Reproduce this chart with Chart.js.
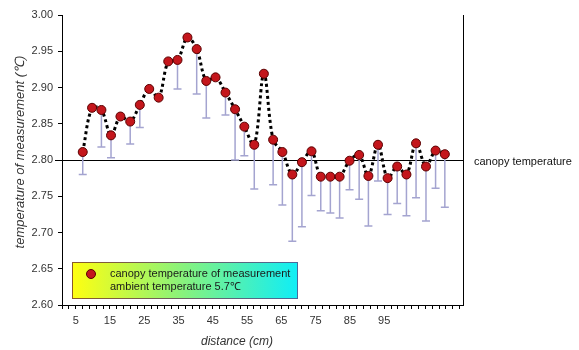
<!DOCTYPE html>
<html>
<head>
<meta charset="utf-8">
<script src="https://cdn.jsdelivr.net/npm/chart.js@4"></script>
<style>
  html, body { margin: 0; padding: 0; background: #fff; }
  #wrap { width: 579px; height: 350px; }
</style>
</head>
<body>
<div id="wrap"><canvas id="chart"></canvas></div>
<script>
// distance of each measurement point (cm)
const distance = [7.05, 9.77, 12.5, 15.3, 18.05, 20.9, 23.7, 26.45, 29.2, 32.0,
    34.7, 37.6, 40.3, 43.1, 45.8, 48.7, 51.5, 54.2, 57.1, 59.9,
    62.6, 65.3, 68.2, 71.0, 73.8, 76.5, 79.3, 82.0, 84.9, 87.7,
    90.4, 93.2, 96.0, 98.8, 101.5, 104.3, 107.2, 110.0, 112.7];

// canopy temperature of measurement
const canopyTemp = [2.811, 2.872, 2.869, 2.834, 2.860, 2.853, 2.876, 2.898, 2.886, 2.936,
    2.938, 2.969, 2.953, 2.909, 2.914, 2.893, 2.870, 2.846, 2.821, 2.919,
    2.828, 2.811, 2.780, 2.797, 2.812, 2.777, 2.777, 2.777, 2.799, 2.807,
    2.778, 2.821, 2.775, 2.791, 2.780, 2.823, 2.791, 2.813, 2.808];

// lower end of the error bar (null = no bar shown)
const lowerEnd = [2.780, null, 2.818, 2.803, null, 2.822, 2.845, null, null, null,
    2.898, null, 2.891, 2.858, null, 2.862, 2.800, 2.806, 2.760, null,
    2.766, 2.738, 2.688, 2.708, 2.751, 2.730, 2.727, 2.720, 2.759, 2.746,
    2.709, 2.771, 2.725, 2.740, 2.723, 2.748, 2.716, 2.761, 2.735];

const xLabels = [5, 15, 25, 35, 45, 55, 65, 75, 85, 95];
const canopyRef = 2.80;

const FONT = 'Arial, "Liberation Sans", sans-serif';

const extras = {
    id: 'extras',
    beforeDatasetsDraw(chart) {
        const {ctx, chartArea, scales: {x, y}} = chart;
        ctx.save();
        // reference line + label
        const ry = Math.round(y.getPixelForValue(canopyRef)) + 0.5;
        ctx.strokeStyle = '#000';
        ctx.lineWidth = 1;
        ctx.beginPath();
        ctx.moveTo(chartArea.left - 7, ry);
        ctx.lineTo(chartArea.right, ry);
        ctx.stroke();
        ctx.fillStyle = '#111';
        ctx.font = '11px ' + FONT;
        ctx.textBaseline = 'middle';
        ctx.fillText('canopy temperature', chartArea.right + 11, ry + 1);

        // error bars (lower only)
        ctx.strokeStyle = '#a4a4d0';
        ctx.lineWidth = 1.5;
        distance.forEach((d, i) => {
            if (lowerEnd[i] == null) return;
            const px = x.getPixelForValue(d);
            const top = y.getPixelForValue(canopyTemp[i]);
            const bot = y.getPixelForValue(lowerEnd[i]);
            ctx.beginPath();
            ctx.moveTo(px, top);
            ctx.lineTo(px, bot);
            ctx.moveTo(px - 4, bot);
            ctx.lineTo(px + 4, bot);
            ctx.stroke();
        });
        ctx.restore();
    },
    afterDraw(chart) {
        const {ctx, chartArea} = chart;
        ctx.save();
        // right frame line
        ctx.strokeStyle = '#000';
        ctx.lineWidth = 1;
        ctx.beginPath();
        ctx.moveTo(chartArea.right + 0.5, chartArea.top);
        ctx.lineTo(chartArea.right + 0.5, chartArea.bottom);
        ctx.stroke();

        // axis titles
        ctx.fillStyle = '#333';
        ctx.textAlign = 'center';
        ctx.textBaseline = 'middle';
        ctx.font = 'italic 12px ' + FONT;
        ctx.fillText('distance (cm)', 237, 342);
        ctx.save();
        ctx.translate(20, 152);
        ctx.rotate(-Math.PI / 2);
        ctx.font = 'italic 13px ' + FONT;
        ctx.fillText('temperature of measurement (\u2103)', 0, 0);
        ctx.restore();

        // legend box
        const bx = 72, by = 262, bw = 225, bh = 36;
        const g = ctx.createLinearGradient(bx, 0, bx + bw, 0);
        g.addColorStop(0, '#ffff10');
        g.addColorStop(0.5, '#86f27e');
        g.addColorStop(1, '#10eef6');
        ctx.fillStyle = g;
        ctx.fillRect(bx, by, bw, bh);
        const sg = ctx.createLinearGradient(bx, 0, bx + bw, 0);
        sg.addColorStop(0, '#8a5a2a');
        sg.addColorStop(1, '#4a6a9a');
        ctx.strokeStyle = sg;
        ctx.strokeRect(bx + 0.5, by + 0.5, bw, bh);

        ctx.beginPath();
        ctx.arc(91, 274, 4.5, 0, Math.PI * 2);
        ctx.fillStyle = '#c4161c';
        ctx.fill();
        ctx.strokeStyle = '#5a0000';
        ctx.stroke();

        ctx.fillStyle = '#1a1a1a';
        ctx.textAlign = 'left';
        ctx.font = '11px ' + FONT;
        ctx.fillText('canopy temperature of measurement', 110, 274);
        ctx.fillText('ambient temperature 5.7\u2103', 110, 287);
        ctx.restore();
    }
};

new Chart(document.getElementById('chart'), {
    type: 'line',
    data: {
        datasets: [{
            label: 'canopy temperature of measurement',
            data: distance.map((d, i) => ({x: d, y: canopyTemp[i]})),
            borderColor: '#000',
            borderWidth: 3,
            borderDash: [3, 3],
            tension: 0.35,
            pointRadius: 4.5,
            pointBackgroundColor: '#c4161c',
            pointBorderColor: '#5a0000',
            pointBorderWidth: 1,
            fill: false
        }]
    },
    options: {
        responsive: true,
        maintainAspectRatio: false,
        animation: false,
        layout: {padding: {top: 15, right: 116, left: 0, bottom: 0}},
        plugins: {
            legend: {display: false},
            tooltip: {enabled: false}
        },
        scales: {
            x: {
                type: 'linear',
                min: 1,
                max: 118,
                afterBuildTicks: s => {
                    const t = [];
                    for (let v = 1; v <= 117; v += 2) t.push({value: v});
                    s.ticks = t;
                },
                afterFit: s => { s.height = 45; },
                grid: {drawOnChartArea: false, tickLength: 4, color: '#000'},
                border: {color: '#000', width: 1},
                ticks: {
                    autoSkip: false,
                    maxRotation: 0,
                    padding: 5,
                    color: '#333',
                    font: {family: FONT, size: 11},
                    callback: v => xLabels.includes(v) ? String(v) : ''
                }
            },
            y: {
                min: 2.6,
                max: 3.0,
                afterFit: s => { s.width = 62; },
                grid: {drawOnChartArea: false, tickLength: 4, color: '#000'},
                border: {color: '#000', width: 1},
                ticks: {
                    stepSize: 0.05,
                    padding: 5,
                    color: '#333',
                    font: {family: FONT, size: 11},
                    callback: v => v.toFixed(2)
                }
            }
        }
    },
    plugins: [extras]
});
</script>
</body>
</html>
